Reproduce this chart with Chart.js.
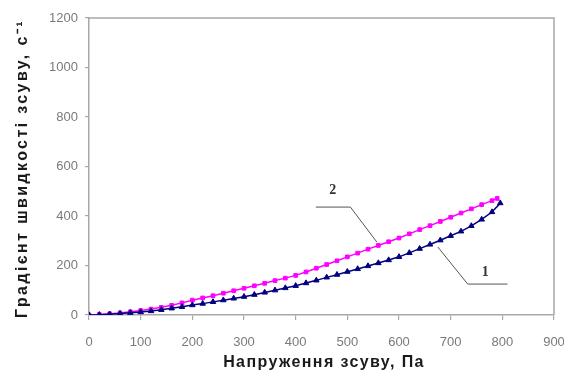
<!DOCTYPE html>
<html>
<head>
<meta charset="utf-8">
<script src="https://cdn.jsdelivr.net/npm/chart.js@4"></script>
<style>
  html, body { margin: 0; padding: 0; background: #fff; }
  #c { display: block; }
</style>
</head>
<body>
<canvas id="c" width="564" height="375"></canvas>
<script>
// Shear stress, Pa
const stress1 = [0,20,40,60,80,100,120,140,160,180,200,220,240,260,280,300,320,340,360,380,400,420,440,460,480,500,520,540,560,580,600,620,640,660,680,700,720,740,760,780,796];
const stress2 = [0,20,40,60,80,100,120,140,160,180,200,220,240,260,280,300,320,340,360,380,400,420,440,460,480,500,520,540,560,580,600,620,640,660,680,700,720,740,760,780,790];
// Shear rate gradient, s^-1
const rate1 = [0,1,3,6,9,12,16,21,27,33,40,46,53,60,67,74,82,91,100,109,118,129,140,152,163,175,186,198,210,222,235,251,268,285,302,320,338,360,386,416,452];
const rate2 = [0,2,5,8,13,18,24,31,39,49,60,69,78,88,98,108,118,128,139,149,160,174,189,204,219,235,250,266,281,296,311,328,345,361,378,395,412,429,446,462,471];
const seriesNames = ['1', '2'];
const xTicks = [0,100,200,300,400,500,600,700,800,900];
const yTicks = [0,200,400,600,800,1000,1200];

const xTitle = 'Напруження зсуву, Па';
const yTitle = 'Градієнт швидкості зсуву, с⁻¹';

// Curve labels with leader lines, in data units
const curveLabels = [
  { text: '2', at: [472, 505], shelf: [[439, 436], [506, 436]], tip: [557, 295], shelfFromLeft: true },
  { text: '1', at: [767, 174], shelf: [[733, 125], [810, 125]], tip: [675, 275], shelfFromLeft: false }
];

const toPoints = (xs, ys) => xs.map((x, i) => ({ x, y: ys[i] }));

const decor = {
  id: 'decor',
  beforeDatasetsDraw(chart) {
    const { ctx, chartArea: a } = chart;
    ctx.save();
    ctx.strokeStyle = '#a8a8a8';
    ctx.lineWidth = 1.5;
    ctx.beginPath();
    ctx.moveTo(a.left, a.top);
    ctx.lineTo(a.right, a.top);
    ctx.lineTo(a.right, a.bottom);
    ctx.stroke();
    ctx.restore();
  },
  afterDatasetsDraw(chart) {
    const { ctx, chartArea: a, scales: { x, y } } = chart;
    ctx.save();
    // leader lines and curve numbers
    ctx.strokeStyle = '#555';
    ctx.lineWidth = 1;
    ctx.fillStyle = '#333';
    ctx.font = 'bold 14px "Liberation Serif", serif';
    ctx.textAlign = 'center';
    ctx.textBaseline = 'middle';
    curveLabels.forEach(l => {
      const sx0 = x.getPixelForValue(l.shelf[0][0]);
      const sx1 = x.getPixelForValue(l.shelf[1][0]);
      const sy = y.getPixelForValue(l.shelf[0][1]);
      const tx = x.getPixelForValue(l.tip[0]);
      const ty = y.getPixelForValue(l.tip[1]);
      ctx.beginPath();
      if (l.shelfFromLeft) {
        ctx.moveTo(sx0, sy); ctx.lineTo(sx1, sy);
      } else {
        ctx.moveTo(sx1, sy); ctx.lineTo(sx0, sy);
      }
      ctx.lineTo(tx, ty);
      ctx.stroke();
      ctx.fillText(l.text, x.getPixelForValue(l.at[0]), y.getPixelForValue(l.at[1]));
    });

    // axis titles
    ctx.fillStyle = '#1a1a1a';
    ctx.font = 'bold 16px "Liberation Sans", Arial, sans-serif';
    ctx.letterSpacing = '1.4px';
    ctx.fillText(xTitle, 324, 363);

    ctx.save();
    ctx.translate(23, (a.top + a.bottom) / 2 + 2);
    ctx.rotate(-Math.PI / 2);
    ctx.letterSpacing = '2.4px';
    ctx.fillText(yTitle, 0, 0);
    ctx.restore();
    ctx.restore();
  }
};

new Chart(document.getElementById('c'), {
  type: 'line',
  data: {
    datasets: [
      {
        label: seriesNames[0],
        data: toPoints(stress1, rate1),
        borderColor: '#000080',
        backgroundColor: '#000080',
        borderWidth: 1.5,
        pointStyle: 'triangle',
        pointRadius: 3.2,
        pointBorderWidth: 1,
        tension: 0
      },
      {
        label: seriesNames[1],
        data: toPoints(stress2, rate2),
        borderColor: '#ff00ff',
        backgroundColor: '#ff00ff',
        borderWidth: 1.5,
        pointStyle: 'rect',
        pointRadius: 2.6,
        pointBorderWidth: 1,
        tension: 0
      }
    ]
  },
  options: {
    responsive: false,
    animation: false,
    layout: { padding: { top: 18, right: 6, left: 0, bottom: 0 } },
    plugins: { legend: { display: false }, tooltip: { enabled: false } },
    scales: {
      x: {
        type: 'linear',
        min: 0, max: 900,
        afterBuildTicks: s => { s.ticks = xTicks.map(v => ({ value: v })); },
        afterFit: s => { s.height = 60; s.paddingRight = 10; },
        border: { color: '#a8a8a8', width: 1.5 },
        grid: { drawOnChartArea: false, color: '#a8a8a8', tickLength: 5, lineWidth: 1.2 },
        ticks: {
          color: '#7a7a7a',
          font: { family: 'Liberation Sans, Arial', size: 13 },
          padding: 15,
          maxRotation: 0,
          callback: v => String(v)
        }
      },
      y: {
        type: 'linear',
        min: 0, max: 1200,
        afterBuildTicks: s => { s.ticks = yTicks.map(v => ({ value: v })); },
        afterFit: s => { s.width = 89; },
        border: { color: '#a8a8a8', width: 1.5 },
        grid: { drawOnChartArea: false, color: '#a8a8a8', tickLength: 4, lineWidth: 1.2 },
        ticks: {
          color: '#7a7a7a',
          font: { family: 'Liberation Sans, Arial', size: 13 },
          padding: 7,
          callback: v => String(v)
        }
      }
    }
  },
  plugins: [decor]
});
</script>
</body>
</html>
